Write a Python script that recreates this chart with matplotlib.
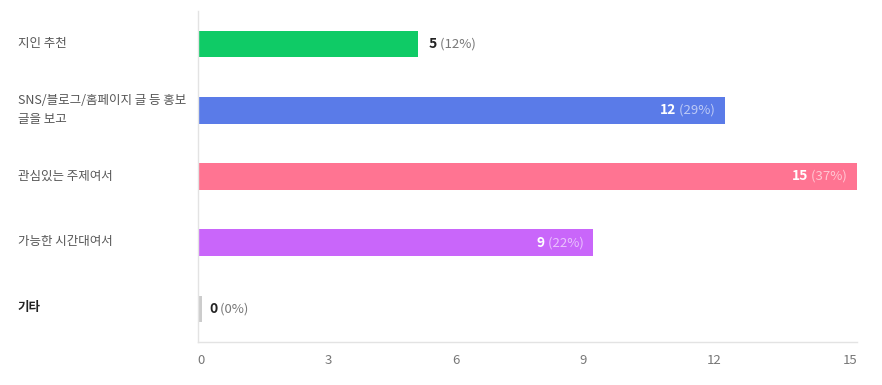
import matplotlib
matplotlib.use("Agg")
import matplotlib.pyplot as plt

plt.rcParams['font.family'] = ['Noto Sans CJK KR', 'DejaVu Sans']

categories = ["지인 추천", "SNS/블로그/홈페이지 글 등 홍보\n글을 보고", "관심있는 주제여서", "가능한 시간대여서", "기타"]
counts = [5, 12, 15, 9, 0]
percents = [12, 29, 37, 22, 0]
colors = ["#0fcb66", "#5a7be8", "#ff7492", "#c966fa", "#cccccc"]
xticks = [0, 3, 6, 9, 12, 15]

fig = plt.figure(figsize=(8.82, 3.85), dpi=100)
ax = fig.add_axes([198 / 882, 43 / 385, 659 / 882, 331 / 385])

ys = list(range(len(categories)))
for y, c, col in zip(ys, counts, colors):
    w = c if c > 0 else 0.07
    ax.barh(y, w, height=0.4, color=col, left=0 if c > 0 else 0.02)

ax.set_xlim(0, 15)
ax.set_ylim(len(categories) - 0.5, -0.5)
ax.set_xticks(xticks)
ax.set_xticklabels([])
ax.set_yticks([])
ax.tick_params(axis='x', length=0)
for s in ['top', 'right']:
    ax.spines[s].set_visible(False)
for s in ['left', 'bottom']:
    ax.spines[s].set_color("#e3e3e3")
    ax.spines[s].set_linewidth(1)

# tick labels: left-aligned, spread a bit tighter than the bars, last one flush right
tr = ax.get_xaxis_transform()
for t in xticks:
    if t == xticks[-1]:
        ax.text(t, -0.055, str(t), transform=tr, ha='right', va='center',
                fontsize=9.5, color="#777777")
    else:
        ax.text(t * 0.966 - 0.02, -0.055, str(t), transform=tr, ha='left', va='center',
                fontsize=9.5, color="#777777")

fig.canvas.draw()
px = 15 / 659  # data units per pixel

for y, c, p, name in zip(ys, counts, percents, categories):
    inside = c >= 9
    if inside:
        pt = ax.text(c - 10 * px, y, f" ({p}%)", ha='right', va='center', fontsize=9.5,
                     color="white", alpha=0.6)
        ax.annotate(str(c), xy=(0, 0.5), xycoords=pt, ha='right', va='center',
                    fontsize=10, fontweight='bold', color="white")
    else:
        nt = ax.text(c + 11 * px, y, str(c), ha='left', va='center', fontsize=10,
                     fontweight='bold', color="#222222")
        ax.annotate(f" ({p}%)", xy=(1, 0.5), xycoords=nt, ha='left', va='center',
                    fontsize=9.5, color="#777777")
    bold = name == "기타"
    fig.text(18 / 882, 1 - (44 + 66 * y) / 385, name, ha='left', va='center',
             fontsize=9, color="#222222" if bold else "#555555",
             fontweight='bold' if bold else 'normal', linespacing=1.5)

fig.savefig("out.png", dpi=100)
